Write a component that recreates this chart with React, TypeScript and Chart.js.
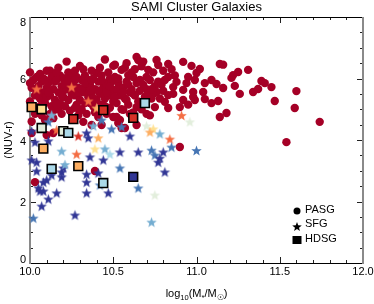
import React, { useEffect, useRef } from 'react';
import { Chart, registerables } from 'chart.js';

Chart.register(...registerables);

// RdYlBu-like colour classes used for star-forming / HDS galaxies
const PALETTE = ['#313695', '#4575b4', '#74add1', '#abd9e9', '#e2eedc', '#fee090', '#fdae61', '#f46d43', '#d73027'];
const PASG_COLOR = '#a50026';

const TITLE = 'SAMI Cluster Galaxies';
const Y_TITLE = '(NUV-r)';
const xTickLabels = ['10.0', '10.5', '11.0', '11.5', '12.0'];
const xTickValues = [10.0, 10.5, 11.0, 11.5, 12.0];
const yTickLabels = ['0', '2', '4', '6', '8'];
const yTickValues = [0, 2, 4, 6, 8];
const legendLabels = ['PASG', 'SFG', 'HDSG'];

// PASG: [log10 M*, NUV-r]
const pasgPoints: number[][] = [
  [10.00, 6.20], [10.02, 5.95], [10.01, 5.70], [10.03, 5.45], [10.00, 5.25], [10.02, 5.05], [10.03, 4.85], [10.01, 4.60], [10.01, 4.23], [10.03, 2.63], [10.04, 6.05], [10.04, 5.60], [10.00, 5.85],
  [10.06, 6.15], [10.07, 5.90], [10.05, 5.75], [10.08, 5.55], [10.06, 5.35], [10.09, 5.20], [10.07, 4.80], [10.09, 4.65], [10.08, 6.00], [10.10, 5.70], [10.10, 5.40], [10.10, 4.16],
  [10.12, 6.25], [10.13, 6.05], [10.11, 5.85], [10.14, 5.65], [10.12, 5.45], [10.15, 5.30], [10.13, 5.10], [10.14, 4.95], [10.14, 4.71], [10.14, 4.23], [10.15, 5.90],
  [10.17, 6.35], [10.18, 6.10], [10.16, 5.95], [10.19, 5.75], [10.17, 5.55], [10.20, 5.40], [10.18, 5.20], [10.17, 5.00], [10.19, 4.85], [10.20, 6.00], [10.20, 5.60],
  [10.22, 6.55], [10.23, 6.20], [10.21, 6.00], [10.24, 5.85], [10.22, 5.65], [10.25, 5.50], [10.23, 5.30], [10.21, 5.10], [10.24, 4.95], [10.25, 6.10], [10.25, 5.75],
  [10.30, 6.41], [10.27, 6.25], [10.28, 6.05], [10.26, 5.85], [10.29, 5.70], [10.27, 5.45], [10.30, 5.30], [10.28, 5.15], [10.30, 4.95], [10.26, 5.60], [10.29, 4.80],
  [10.32, 6.30], [10.33, 6.10], [10.31, 5.95], [10.34, 5.75], [10.32, 5.55], [10.35, 5.40], [10.33, 5.20], [10.31, 5.00], [10.34, 4.85], [10.32, 4.59], [10.35, 5.95],
  [10.40, 6.18], [10.37, 6.25], [10.38, 6.00], [10.36, 5.80], [10.39, 5.65], [10.37, 5.45], [10.40, 5.30], [10.38, 5.10], [10.39, 4.90], [10.37, 4.49], [10.39, 2.99], [10.36, 5.60],
  [10.45, 6.62], [10.42, 6.35], [10.43, 6.10], [10.41, 5.90], [10.44, 5.70], [10.42, 5.50], [10.45, 5.35], [10.43, 5.15], [10.41, 4.75], [10.43, 4.49], [10.45, 5.85],
  [10.50, 6.41], [10.47, 6.20], [10.48, 6.00], [10.46, 5.80], [10.49, 5.60], [10.47, 5.45], [10.50, 5.25], [10.48, 5.05], [10.46, 4.85], [10.50, 4.75], [10.49, 5.90],
  [10.55, 6.28], [10.51, 6.05], [10.53, 5.85], [10.52, 5.65], [10.54, 5.45], [10.52, 5.20], [10.55, 5.00], [10.52, 4.75], [10.54, 4.65], [10.53, 4.55], [10.55, 4.39], [10.51, 6.45],
  [10.59, 6.11], [10.57, 6.35], [10.58, 5.90], [10.56, 5.70], [10.60, 5.55], [10.57, 5.35], [10.59, 5.15], [10.56, 4.98], [10.60, 4.85], [10.57, 4.39], [10.58, 6.50],
  [10.65, 6.60], [10.64, 6.70], [10.63, 6.30], [10.62, 6.05], [10.64, 5.85], [10.61, 5.65], [10.63, 5.45], [10.65, 5.25], [10.64, 5.07], [10.62, 4.90], [10.64, 4.49], [10.61, 6.20],
  [10.71, 6.28], [10.70, 6.05], [10.67, 6.40], [10.68, 5.80], [10.66, 5.60], [10.69, 5.40], [10.67, 5.00], [10.70, 4.85], [10.68, 6.55], [10.70, 5.65],
  [10.76, 6.60], [10.77, 6.44], [10.74, 6.20], [10.72, 5.95], [10.75, 5.75], [10.76, 5.56], [10.73, 5.35], [10.75, 5.07], [10.72, 4.80], [10.77, 5.90], [10.74, 5.50],
  [10.83, 6.47], [10.83, 6.05], [10.80, 6.25], [10.79, 5.80], [10.81, 5.24], [10.83, 5.46], [10.83, 5.04], [10.80, 5.60], [10.86, 5.72], [10.88, 5.89], [10.85, 6.30],
  [10.92, 6.54], [10.97, 6.41], [11.02, 6.31], [11.00, 6.18], [11.14, 6.47], [11.16, 6.45], [11.31, 6.28], [11.25, 6.21], [11.22, 6.11], [11.21, 6.02],
  [11.09, 5.95], [10.99, 5.95], [10.94, 5.85], [11.05, 5.85], [11.12, 5.82], [11.16, 5.69], [11.23, 5.76], [11.39, 5.92], [11.41, 5.85], [11.45, 5.72],
  [11.37, 5.66], [11.34, 5.56], [11.60, 5.59], [11.26, 5.50], [11.47, 5.27], [11.59, 5.04], [11.74, 4.59], [11.54, 3.93], [11.18, 4.88], [11.14, 4.75],
  [11.13, 5.27], [11.09, 5.20], [11.05, 5.33], [10.99, 5.30], [10.98, 5.56], [11.04, 5.56], [10.92, 5.63], [10.98, 5.40], [10.92, 5.30], [10.90, 3.77], [10.90, 5.07],
  [10.05, 5.50], [10.09, 5.95], [10.11, 5.55], [10.16, 5.15], [10.19, 5.45], [10.21, 5.80], [10.23, 5.95], [10.27, 5.95], [10.29, 5.55], [10.31, 5.65],
  [10.33, 5.85], [10.37, 5.95], [10.38, 5.35], [10.41, 5.60], [10.43, 5.95], [10.46, 5.55], [10.48, 5.75], [10.51, 5.40], [10.53, 6.00], [10.56, 5.55],
  [10.59, 5.80], [10.62, 5.50], [10.66, 5.95], [10.68, 5.15], [10.71, 5.50], [10.73, 5.65], [10.78, 5.35], [10.81, 5.95], [10.86, 5.50], [10.87, 6.10],
  [10.95, 6.05], [10.95, 5.15], [10.06, 5.10], [10.12, 4.85], [10.27, 5.05], [10.45, 5.10], [10.58, 5.30], [10.36, 5.20], [10.16, 6.20], [10.10, 6.25],
];

// SFG: [log10 M*, NUV-r, colour class]
const sfgPoints: number[][] = [
  [10.04, 5.66, 7], [10.25, 5.72, 7], [10.35, 5.27, 7], [10.40, 5.04, 6], [10.13, 4.81, 2], [10.11, 4.59, 1], [10.43, 4.65, 1], [10.38, 4.46, 2],
  [10.49, 4.36, 1], [10.55, 4.43, 1], [10.60, 4.13, 0], [10.70, 4.46, 4], [10.74, 4.36, 5], [10.72, 4.26, 6], [10.78, 4.20, 2], [10.84, 4.03, 7],
  [10.85, 3.77, 1], [11.00, 3.66, 1], [10.91, 4.80, 7], [10.96, 4.59, 4], [10.16, 4.33, 7], [10.01, 4.29, 0], [10.29, 4.13, 8], [10.34, 4.23, 0],
  [10.35, 4.07, 0], [10.41, 4.07, 6], [10.03, 3.93, 0], [10.11, 3.97, 0], [10.19, 3.64, 2], [10.28, 3.54, 7], [10.36, 3.45, 0], [10.39, 3.71, 5],
  [10.45, 3.71, 2], [10.48, 3.54, 3], [10.54, 3.61, 0], [10.44, 3.35, 0], [10.65, 3.61, 0], [10.73, 3.67, 1], [10.75, 3.51, 1], [10.77, 3.28, 0],
  [10.78, 3.41, 0], [10.80, 3.61, 0], [10.54, 3.09, 1], [10.81, 2.96, 0], [10.65, 2.44, 1], [10.75, 2.21, 4], [10.73, 1.33, 2], [10.27, 1.56, 0],
  [10.02, 1.46, 1], [10.07, 1.85, 0], [10.11, 2.08, 0], [10.16, 2.28, 0], [10.34, 2.28, 0], [10.47, 2.28, 0], [10.34, 2.63, 0], [10.41, 2.93, 0],
  [10.42, 2.54, 1], [10.34, 2.89, 0], [10.05, 2.44, 0], [10.06, 2.34, 0], [10.08, 2.34, 0], [10.08, 2.63, 0], [10.10, 2.70, 0], [10.19, 2.96, 0],
  [10.19, 2.80, 0], [10.20, 3.09, 0], [10.21, 3.20, 2], [10.13, 2.86, 0], [10.04, 2.99, 0], [10.01, 3.35, 0], [10.04, 3.28, 0],
];

// HDSG: [log10 M*, NUV-r, colour class]
const hdsgPoints: number[][] = [
  [10.01, 5.07, 6], [10.07, 5.00, 5], [10.44, 4.97, 8], [10.26, 4.68, 8], [10.62, 4.72, 8], [10.69, 5.20, 3], [10.07, 4.39, 4],
  [10.20, 4.29, 4], [10.23, 4.23, 3], [10.08, 3.72, 6], [10.13, 3.06, 3], [10.29, 3.15, 6], [10.44, 2.60, 3], [10.62, 2.80, 0],
];

const FONT = '"Liberation Sans", Arial, Helvetica, sans-serif';

function starPath(g: CanvasRenderingContext2D, cx: number, cy: number, R: number) {
  const r = R * 0.42;
  g.beginPath();
  for (let i = 0; i < 10; i++) {
    const a = -Math.PI / 2 + (i * Math.PI) / 5;
    const rad = i % 2 === 0 ? R : r;
    g.lineTo(cx + rad * Math.cos(a), cy + rad * Math.sin(a));
  }
  g.closePath();
}

function makeStar(color: string, R: number) {
  const s = Math.ceil(R * 2 + 2);
  const c = document.createElement('canvas');
  c.width = s;
  c.height = s;
  const g = c.getContext('2d')!;
  starPath(g, s / 2, s / 2 + 0.5, R);
  g.fillStyle = color;
  g.fill();
  return c;
}

const framePlugin = {
  id: 'frame',
  beforeDatasetsDraw(chart: any) {
    const { ctx, chartArea, scales } = chart;
    const { left, right, top, bottom } = chartArea;
    const xs = scales.x;
    const ys = scales.y;
    ctx.save();
    ctx.strokeStyle = '#222';
    ctx.lineWidth = 1;
    ctx.beginPath();
    for (let i = 0; i <= 20; i++) {
      const v = 10 + i * 0.1;
      const px = Math.round(xs.getPixelForValue(v)) + 0.5;
      const len = i % 5 === 0 ? 6 : 3;
      ctx.moveTo(px, bottom);
      ctx.lineTo(px, bottom - len);
      ctx.moveTo(px, top);
      ctx.lineTo(px, top + len);
    }
    for (let i = 0; i <= 16; i++) {
      const v = i * 0.5;
      const py = Math.round(ys.getPixelForValue(v)) + 0.5;
      const len = i % 4 === 0 ? 6 : 3;
      ctx.moveTo(left, py);
      ctx.lineTo(left + len, py);
      ctx.moveTo(right, py);
      ctx.lineTo(right - len, py);
    }
    ctx.stroke();
    // top & bottom borders (black)
    ctx.strokeStyle = '#000';
    ctx.lineWidth = 1;
    ctx.beginPath();
    ctx.moveTo(left, Math.round(top) + 0.5);
    ctx.lineTo(right, Math.round(top) + 0.5);
    ctx.moveTo(left, Math.round(bottom) + 0.5);
    ctx.lineTo(right, Math.round(bottom) + 0.5);
    ctx.stroke();
    // left & right borders (grey)
    ctx.strokeStyle = '#8a8a8a';
    ctx.lineWidth = 2;
    ctx.beginPath();
    ctx.moveTo(Math.round(left), top);
    ctx.lineTo(Math.round(left), bottom + 1);
    ctx.moveTo(Math.round(right), top);
    ctx.lineTo(Math.round(right), bottom + 1);
    ctx.stroke();
    ctx.restore();
  },
  afterDraw(chart: any) {
    const { ctx, chartArea, scales } = chart;
    const { left, right, top, bottom } = chartArea;
    const xs = scales.x;
    const ys = scales.y;
    ctx.save();
    ctx.fillStyle = '#000';
    // title
    ctx.font = `13px ${FONT}`;
    ctx.textAlign = 'center';
    ctx.textBaseline = 'alphabetic';
    ctx.fillText(TITLE, (left + right) / 2, 11);
    // x tick labels
    ctx.font = `11px ${FONT}`;
    ctx.textBaseline = 'middle';
    xTickValues.forEach((v, i) => {
      ctx.fillText(xTickLabels[i], xs.getPixelForValue(v), bottom + 9);
    });
    // y tick labels
    ctx.textAlign = 'right';
    yTickValues.forEach((v, i) => {
      let py = ys.getPixelForValue(v) + 1.5;
      py = Math.min(Math.max(py, top + 6), bottom - 3);
      ctx.fillText(yTickLabels[i], left - 4, py);
    });
    // y title
    ctx.save();
    ctx.translate(9, (top + bottom) / 2);
    ctx.rotate(-Math.PI / 2);
    ctx.textAlign = 'center';
    ctx.textBaseline = 'middle';
    ctx.font = `11px ${FONT}`;
    ctx.fillText(Y_TITLE, 0, 0);
    ctx.restore();
    // x title with subscripts
    const parts: [string, number, number][] = [
      ['log', 11, 0], ['10', 7.5, 3], ['(M', 11, 0], ['*', 7.5, 3], ['/M', 11, 0], ['\u2609', 7.5, 3], [')', 11, 0],
    ];
    let total = 0;
    parts.forEach(([t, s]) => {
      ctx.font = `${s}px ${FONT}`;
      total += ctx.measureText(t).width;
    });
    let cx = (left + right) / 2 - total / 2;
    ctx.textAlign = 'left';
    ctx.textBaseline = 'alphabetic';
    parts.forEach(([t, s, dy]) => {
      ctx.font = `${s}px ${FONT}`;
      ctx.fillText(t, cx, 297 + dy);
      cx += ctx.measureText(t).width;
    });
    // legend
    const lx = right - 66;
    const rows = [bottom - 53, bottom - 39, bottom - 24];
    ctx.fillStyle = '#000';
    ctx.beginPath();
    ctx.arc(lx, rows[0] + 1, 3.5, 0, Math.PI * 2);
    ctx.fill();
    starPath(ctx, lx, rows[1] + 3, 5);
    ctx.fill();
    ctx.fillRect(lx - 4.5, rows[2] - 3, 9, 8);
    ctx.font = `11px ${FONT}`;
    ctx.textBaseline = 'middle';
    legendLabels.forEach((t, i) => {
      ctx.fillText(t, lx + 8, rows[i]);
    });
    ctx.restore();
  },
};

export default function App() {
  const ref = useRef<HTMLCanvasElement | null>(null);
  useEffect(() => {
    document.body.style.margin = '0';
    const canvas = ref.current;
    if (!canvas) return;
    const starImgs = PALETTE.map((c) => makeStar(c, 5.5));
    const chart = new Chart(canvas, {
      type: 'scatter',
      data: {
        datasets: [
          {
            label: 'HDSG',
            data: hdsgPoints.map((p) => ({ x: p[0], y: p[1] })),
            pointStyle: 'rect',
            pointRadius: 6.2,
            backgroundColor: hdsgPoints.map((p) => PALETTE[p[2]]),
            borderColor: '#000',
            borderWidth: 1.6,
            order: 1,
            clip: false,
          } as any,
          {
            label: 'SFG',
            data: sfgPoints.map((p) => ({ x: p[0], y: p[1] })),
            pointStyle: sfgPoints.map((p) => starImgs[p[2]]),
            pointRadius: 5.5,
            order: 2,
            clip: false,
          } as any,
          {
            label: 'PASG',
            data: pasgPoints.map((p) => ({ x: p[0], y: p[1] })),
            pointStyle: 'circle',
            pointRadius: 4.2,
            backgroundColor: PASG_COLOR,
            borderWidth: 0,
            order: 3,
            clip: false,
          } as any,
        ],
      },
      options: {
        responsive: false,
        animation: false,
        events: [],
        layout: { padding: { left: 30, right: 11, top: 17, bottom: 41 } },
        scales: {
          x: { type: 'linear', min: 10, max: 12, display: false },
          y: { type: 'linear', min: 0, max: 8, display: false },
        },
        plugins: { legend: { display: false }, tooltip: { enabled: false }, title: { display: false } },
      },
      plugins: [framePlugin as any],
    });
    return () => chart.destroy();
  }, []);
  return <canvas ref={ref} width={374} height={304} style={{ display: 'block' }} />;
}
